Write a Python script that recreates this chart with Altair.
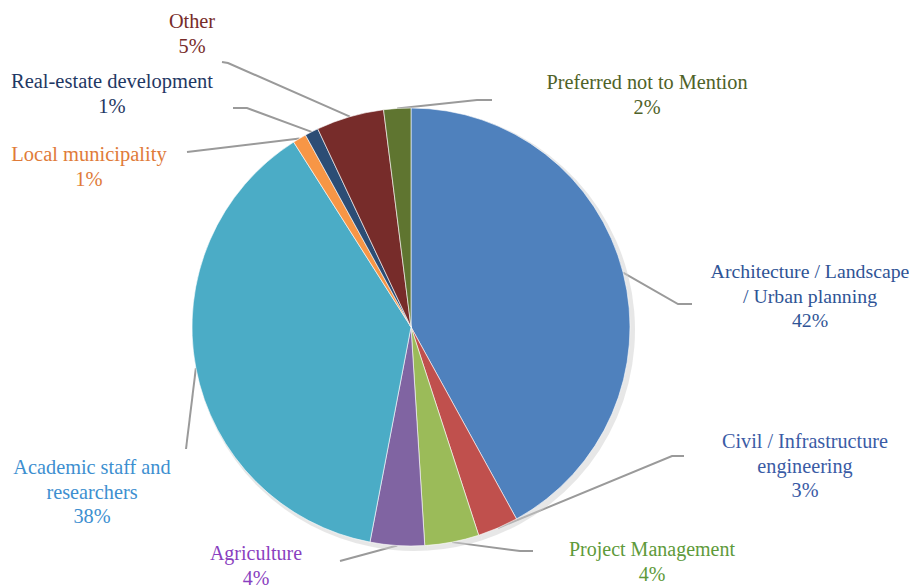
import altair as alt
import numpy as np
import pandas as pd

# ---------------- data ----------------
categories = [
    "Architecture / Landscape / Urban planning",
    "Civil / Infrastructure engineering",
    "Project Management",
    "Agriculture",
    "Academic staff and researchers",
    "Local municipality",
    "Real-estate development",
    "Other",
    "Preferred not to Mention",
]
values = [42, 3, 4, 4, 38, 1, 1, 5, 2]
label_text = [
    "Architecture / Landscape\n/ Urban planning",
    "Civil / Infrastructure\nengineering",
    "Project Management",
    "Agriculture",
    "Academic staff and\nresearchers",
    "Local municipality",
    "Real-estate development",
    "Other",
    "Preferred not to Mention",
]

# ---------------- styles ----------------
slice_colors = ["#4F81BD", "#C0504D", "#9BBB59", "#8064A2", "#4BACC6",
                "#F79646", "#2C4D75", "#772C2A", "#5F7530"]
text_colors = ["#2F5496", "#3A5BA5", "#5E9A3A", "#8A3FC0", "#3D8FD0",
               "#E07B39", "#1F3864", "#772C2A", "#4F6228"]
label_sizes = [19.8, 20.2, 20, 20, 20.3, 20.5, 20.5, 20.3, 20.3]
FONT = "serif"

# ---------------- layout (chart pixel coords) ----------------
W, H = 901, 580
CX, CY, R = 403, 319, 219
label_pos = [(802, 264), (797, 434), (644, 542), (248, 546), (84, 460),
             (81, 147), (104, 74), (184, 14), (639, 75)]
leader_knee = [(670, 296), (664, 448), (512, 543), (332, 553), (178, 441),
               (179, 144), (239, 100), (220, 55), (469, 92)]
leader_end = [(684, 296), (676, 448), (525, 543), (332, 553), (178, 441),
              (179, 144), (225, 100), (214, 54), (484, 92)]

# ---------------- derived tables ----------------
vals = np.array(values, dtype=float)
cum = np.cumsum(vals)
mid = (cum - vals / 2) / vals.sum() * 2 * np.pi

pie_df = pd.DataFrame({
    "category": categories,
    "value": values,
    "idx": range(len(values)),
    "color": slice_colors,
})

lab_df = pd.DataFrame({
    "category": categories,
    "text": [f"{t}\n{v}%" for t, v in zip(label_text, values)],
    "x": [p[0] for p in label_pos],
    "y": [p[1] for p in label_pos],
    "color": text_colors,
    "size": label_sizes,
})

rows = []
for i, c in enumerate(categories):
    ex = CX + R * np.sin(mid[i])
    ey = CY - R * np.cos(mid[i])
    pts = [(ex, ey), leader_knee[i], leader_end[i]]
    for k, (px, py) in enumerate(pts):
        rows.append({"category": c, "k": k, "x": px, "y": py})
line_df = pd.DataFrame(rows)

xs = alt.Scale(domain=[0, W], nice=False, zero=False)
ys = alt.Scale(domain=[0, H], nice=False, zero=False, reverse=True)

shadow = alt.Chart(pie_df).mark_arc(
    radius=R + 2, color="#d0d0d0", opacity=0.5
).encode(
    theta=alt.Theta("value:Q", stack=True),
    order=alt.Order("idx:Q"),
    x=alt.value(CX + 3),
    y=alt.value(CY + 3),
)

pie = alt.Chart(pie_df).mark_arc(
    radius=R, stroke="#ffffff", strokeWidth=0.6
).encode(
    theta=alt.Theta("value:Q", stack=True),
    order=alt.Order("idx:Q"),
    color=alt.Color("color:N", scale=None),
    x=alt.value(CX),
    y=alt.value(CY),
)

leaders = alt.Chart(line_df).mark_line(
    color="#9a9a9a", strokeWidth=2
).encode(
    x=alt.X("x:Q", scale=xs, axis=None),
    y=alt.Y("y:Q", scale=ys, axis=None),
    detail="category:N",
    order="k:Q",
)

labels = alt.Chart(lab_df).mark_text(
    font=FONT, lineBreak="\n", lineHeight=24.5,
    align="center", baseline="middle"
).encode(
    x=alt.X("x:Q", scale=xs, axis=None),
    y=alt.Y("y:Q", scale=ys, axis=None),
    text="text:N",
    color=alt.Color("color:N", scale=None),
    size=alt.Size("size:Q", scale=None, legend=None),
)

chart = alt.layer(leaders, shadow, pie, labels).properties(
    width=W, height=H, padding=0, autosize=alt.AutoSizeParams(type="none")
).configure(background="#ffffff").configure_view(stroke=None)

chart.save("out.html", embed_options={"renderer": "svg", "actions": False})
